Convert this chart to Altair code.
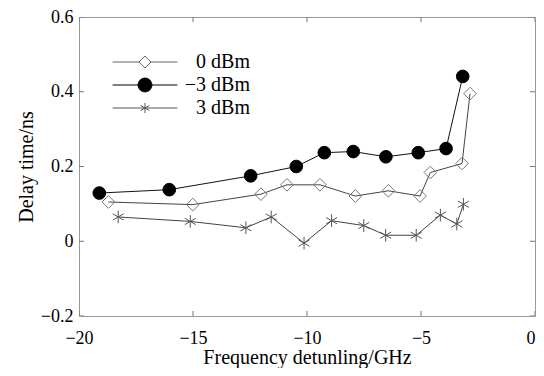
import altair as alt
import pandas as pd

series_names = ["0 dBm", "−3 dBm", "3 dBm"]

x_0dbm = [-18.71, -15.01, -12.02, -10.88, -9.43, -7.88, -6.43, -5.04, -4.59, -3.20, -2.85]
y_0dbm = [0.105, 0.098, 0.126, 0.151, 0.151, 0.121, 0.135, 0.121, 0.184, 0.208, 0.395]

x_m3dbm = [-19.11, -16.04, -12.47, -10.47, -9.24, -7.97, -6.54, -5.12, -3.90, -3.17]
y_m3dbm = [0.129, 0.138, 0.175, 0.200, 0.237, 0.240, 0.226, 0.237, 0.248, 0.441]

x_3dbm = [-18.28, -15.12, -12.68, -11.57, -10.13, -8.92, -7.51, -6.55, -5.21, -4.15, -3.43, -3.14]
y_3dbm = [0.065, 0.053, 0.036, 0.065, -0.005, 0.055, 0.042, 0.016, 0.016, 0.070, 0.046, 0.099]

x_ticks = [-20, -15, -10, -5, 0]
y_ticks = [-0.2, 0, 0.2, 0.4, 0.6]

FONT = "Liberation Serif"
W, H = 456, 299

rows = []
for name, xs, ys in [(series_names[0], x_0dbm, y_0dbm),
                     (series_names[1], x_m3dbm, y_m3dbm),
                     (series_names[2], x_3dbm, y_3dbm)]:
    for xv, yv in zip(xs, ys):
        rows.append({"series": name, "freq": xv, "delay": yv})
df = pd.DataFrame(rows)

xscale = alt.Scale(domain=[-20, 0], nice=False, zero=False)
yscale = alt.Scale(domain=[-0.2, 0.6], nice=False, zero=False)

x_axis = alt.Axis(values=x_ticks, title="Frequency detunling/GHz", format="~g",
                  labelFlush=False, labelOverlap=False, labelPadding=13,
                  titleBaseline="alphabetic", titleY=47,
                  labelAlign={"expr": "datum.value == 0 ? 'right' : 'center'"})
y_axis = alt.Axis(values=y_ticks, title="Delay time/ns", format="~g",
                  labelFlush=False, labelOverlap=False, labelPadding=6, titlePadding=4)

X = alt.X("freq:Q", scale=xscale, axis=x_axis)
Y = alt.Y("delay:Q", scale=yscale, axis=y_axis)

lines = alt.Chart(df).mark_line(strokeWidth=1, opacity=1).encode(
    x=X, y=Y,
    color=alt.Color("series:N", scale=alt.Scale(domain=series_names,
                    range=["#444444", "#111111", "#444444"]), legend=None),
    order="freq:Q",
)

star = "M0,-1L0,1M-0.87,-0.5L0.87,0.5M-0.87,0.5L0.87,-0.5"
points = alt.Chart(df).mark_point(size=160, strokeWidth=1, opacity=1, filled=True).encode(
    x=X, y=Y,
    shape=alt.Shape("series:N", scale=alt.Scale(domain=series_names,
                    range=["diamond", "circle", star]), legend=None),
    fill=alt.Fill("series:N", scale=alt.Scale(domain=series_names,
                  range=["transparent", "#000000", "transparent"]), legend=None),
    stroke=alt.Stroke("series:N", scale=alt.Scale(domain=series_names,
                      range=["#777777", "#000000", "#555555"]), legend=None),
)

# legend symbols: line with marker
leg_diamond = "M-5.4,0H-1M1,0H5.4M0,-1L1,0L0,1L-1,0Z"
leg_circle = "M-5.4,0H5.4M1.15,0A1.15,1.15 0 1,1 -1.15,0A1.15,1.15 0 1,1 1.15,0Z"
leg_star = "M-5.4,0H5.4M0,-0.85L0,0.85M-0.74,-0.43L0.74,0.43M-0.74,0.43L0.74,-0.43"

legend_df = pd.DataFrame({"series": series_names, "freq": [5, 5, 5], "delay": [0.5, 0.5, 0.5]})
leg = alt.Legend(title=None, orient="none", legendX=56, legendY=35,
                 symbolSize=144, symbolStrokeWidth=1,
                 labelFont=FONT, labelFontSize=20, labelColor="black",
                 labelAlign="right", labelOffset=95, rowPadding=3)
legend_layer = alt.Chart(legend_df).mark_point(size=144, strokeWidth=1, opacity=1,
                                               filled=True, clip=True).encode(
    x=X, y=Y,
    shape=alt.Shape("series:N", scale=alt.Scale(domain=series_names,
                    range=[leg_diamond, leg_circle, leg_star]), legend=leg),
    fill=alt.Fill("series:N", scale=alt.Scale(domain=series_names,
                  range=["transparent", "#000000", "transparent"]), legend=leg),
    stroke=alt.Stroke("series:N", scale=alt.Scale(domain=series_names,
                      range=["#666666", "#000000", "#555555"]), legend=leg),
)

xt_df = pd.DataFrame({"freq": x_ticks})
yt_df = pd.DataFrame({"delay": y_ticks})
tick_style = dict(size=10, thickness=1, color="#777777", opacity=1, clip=True)
xt_bottom = alt.Chart(xt_df).mark_tick(orient="vertical", **tick_style).encode(x=X, y=alt.value(H))
xt_top = alt.Chart(xt_df).mark_tick(orient="vertical", **tick_style).encode(x=X, y=alt.value(0))
yt_left = alt.Chart(yt_df).mark_tick(orient="horizontal", **tick_style).encode(y=Y, x=alt.value(0))
yt_right = alt.Chart(yt_df).mark_tick(orient="horizontal", **tick_style).encode(y=Y, x=alt.value(W))

chart = alt.layer(xt_bottom, xt_top, yt_left, yt_right, lines, points, legend_layer).resolve_scale(
    shape="independent", fill="independent", stroke="independent"
).properties(
    width=W, height=H,
    autosize=alt.AutoSizeParams(type="none"),
    padding={"left": 71, "top": 9, "right": 1, "bottom": 52},
    background="white",
).configure_view(
    stroke="#999999", strokeWidth=1
).configure_axis(
    domain=False, ticks=False, grid=False,
    labelFont=FONT, labelFontSize=18, labelColor="black",
    titleFont=FONT, titleFontSize=20, titleFontWeight="normal", titleColor="black",
)

chart.save("out.html", embed_options={"renderer": "svg", "actions": False})
